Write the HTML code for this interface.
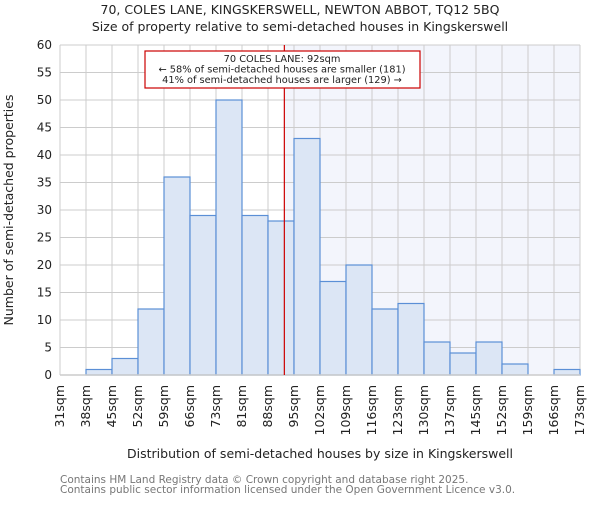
<!DOCTYPE html>
<html><head><meta charset="utf-8"><style>
body{margin:0;background:#fff;}
svg{font-family:"DejaVu Sans","Liberation Sans",sans-serif;}
</style></head><body>
<svg id="c" width="600" height="500">
<text x="300" y="14" font-size="12.5" text-anchor="middle" fill="#222">70, COLES LANE, KINGSKERSWELL, NEWTON ABBOT, TQ12 5BQ</text>
<text x="300" y="31" font-size="12.5" text-anchor="middle" fill="#222">Size of property relative to semi-detached houses in Kingskerswell</text>
<g id="plot"></g>
<text x="320" y="458" font-size="12.5" text-anchor="middle" fill="#222">Distribution of semi-detached houses by size in Kingskerswell</text>
<text transform="translate(13,210) rotate(-90)" font-size="12.5" text-anchor="middle" fill="#222">Number of semi-detached properties</text>
<text x="60" y="483" font-size="10.5" fill="#777">Contains HM Land Registry data © Crown copyright and database right 2025.</text>
<text x="60" y="493" font-size="10.5" fill="#777">Contains public sector information licensed under the Open Government Licence v3.0.</text>
</svg>
<script>
const edges=[31,38,45,52,59,66,73,81,88,95,102,109,116,123,130,137,145,152,159,166,173];
const counts=[0,1,3,12,36,29,50,29,28,43,17,20,12,13,6,4,6,2,0,1];
const yTicks=[0,5,10,15,20,25,30,35,40,45,50,55,60];
const marker=92.4;
const L=60,R=580,T=45,B=375,yMax=60;
const NS="http://www.w3.org/2000/svg";
const g=document.getElementById('plot');
const bw=(R-L)/(edges.length-1);
function xi(i){return L+i*bw;}
function xv(v){for(let i=0;i<edges.length-1;i++){if(v<=edges[i+1])return xi(i)+(v-edges[i])/(edges[i+1]-edges[i])*bw;}return R;}
function y(v){return B-v/yMax*(B-T);}
function el(t,a){const e=document.createElementNS(NS,t);for(const k in a)e.setAttribute(k,a[k]);g.appendChild(e);return e;}
const mx=xv(marker);
let e=el('rect',{x:mx,y:T,width:R-mx,height:B-T,fill:'#f3f5fc'});


yTicks.forEach(v=>{
 let l=el('line',{x1:L,x2:R,y1:y(v),y2:y(v),stroke:'#ccc','stroke-width':1});
 
 
 let t=el('text',{x:L-8,y:y(v)+4,'font-size':12,'text-anchor':'end',fill:'#222'});
 t.textContent=v;
 
 
});
edges.forEach((v,i)=>{
 let l=el('line',{x1:xi(i),x2:xi(i),y1:T,y2:B,stroke:'#ccc','stroke-width':1});
 
 
 let t=el('text',{transform:`translate(${xi(i)+4},${B+10}) rotate(-90)`,'font-size':12.5,'text-anchor':'end',fill:'#222'});
 t.textContent=v+'sqm';
 
 
});
counts.forEach((c,i)=>{
 if(c<=0)return;
 let r=el('rect',{x:xi(i),y:y(c),width:bw,height:y(0)-y(c),fill:'#dce6f5',stroke:'#5b8fd6','stroke-width':1.2});
 
 
});
e=el('line',{x1:L,x2:R,y1:B,y2:B,stroke:'#ccc','stroke-width':1.5});


e=el('line',{x1:mx,x2:mx,y1:T,y2:B,stroke:'#cc0000','stroke-width':1.2});


e=el('rect',{x:145,y:51,width:275,height:37,fill:'#fff',stroke:'#cc0000','stroke-width':1.2});


["70 COLES LANE: 92sqm","← 58% of semi-detached houses are smaller (181)","41% of semi-detached houses are larger (129) →"].forEach((s,i)=>{
 let t=el('text',{x:282,y:62+i*10.5,'font-size':9.8,'text-anchor':'middle',fill:'#222'});
 t.textContent=s;
 
 
});
</script>
</body></html>
